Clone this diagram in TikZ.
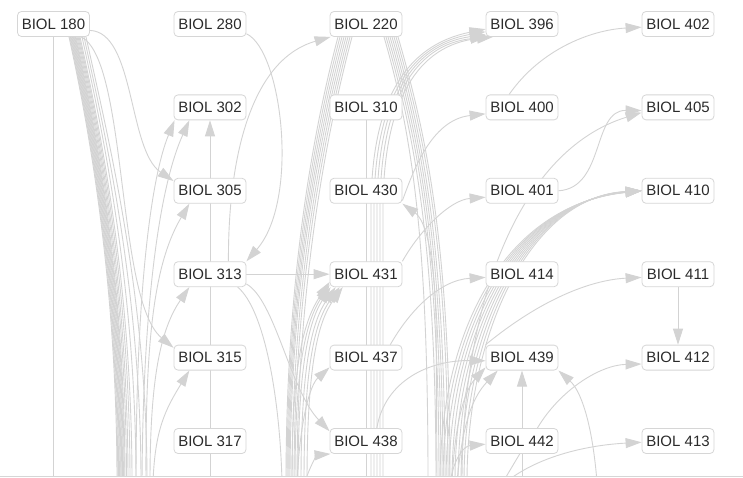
\documentclass[tikz,border=0pt]{standalone}
\usepackage{fontspec}
\setmainfont{Liberation Sans}
\usetikzlibrary{arrows.meta}
\definecolor{edgegray}{HTML}{D3D3D3}
\definecolor{nodeborder}{HTML}{D6D6D6}
\definecolor{nodetext}{HTML}{2B2B2B}
\pgfdeclarelayer{bg}
\pgfsetlayers{bg,main}
\begin{document}
\begin{tikzpicture}[x=1pt,y=-1pt,
  box/.style={draw=nodeborder, line width=0.8pt, fill=white, rounded corners=4pt,
    minimum width=72pt, minimum height=25pt, inner sep=0pt, text=nodetext,
    font=\fontsize{15}{17}\selectfont},
  link/.style={draw=edgegray, line width=0.9pt},
  arr/.style={link, -{Triangle[length=16pt,width=10pt]}}]
\useasboundingbox (0,0) rectangle (743,478);
% nodes
\node[box] (n180) at (53.5,24) {BIOL 180};
\node[box] (n280) at (210,24) {BIOL 280};
\node[box] (n220) at (366,24) {BIOL 220};
\node[box] (n396) at (522,24) {BIOL 396};
\node[box] (n402) at (678,24) {BIOL 402};
\node[box] (n302) at (210,107.4) {BIOL 302};
\node[box] (n310) at (366,107.4) {BIOL 310};
\node[box] (n400) at (522,107.4) {BIOL 400};
\node[box] (n405) at (678,107.4) {BIOL 405};
\node[box] (n305) at (210,190.8) {BIOL 305};
\node[box] (n430) at (366,190.8) {BIOL 430};
\node[box] (n401) at (522,190.8) {BIOL 401};
\node[box] (n410) at (678,190.8) {BIOL 410};
\node[box] (n313) at (210,274.2) {BIOL 313};
\node[box] (n431) at (366,274.2) {BIOL 431};
\node[box] (n414) at (522,274.2) {BIOL 414};
\node[box] (n411) at (678,274.2) {BIOL 411};
\node[box] (n315) at (210,357.6) {BIOL 315};
\node[box] (n437) at (366,357.6) {BIOL 437};
\node[box] (n439) at (522,357.6) {BIOL 439};
\node[box] (n412) at (678,357.6) {BIOL 412};
\node[box] (n317) at (210,441) {BIOL 317};
\node[box] (n438) at (366,441) {BIOL 438};
\node[box] (n442) at (522,441) {BIOL 442};
\node[box] (n413) at (678,441) {BIOL 413};
% free ends below the visible area
\coordinate (f180) at (53.5,482);
\coordinate (f302) at (210,482);
\coordinate (f310) at (366,482);
\coordinate (f439) at (522,482);
\coordinate (fa) at (136,482);
\coordinate (fb) at (142,482);
\coordinate (fc) at (146,482);
\coordinate (fd) at (150,482);
\coordinate (fe) at (153,482);
\coordinate (f313) at (282,482);
\coordinate (f437) at (297,482);
\coordinate (f438) at (305,482);
\coordinate (f430) at (437,482);
\coordinate (f442) at (450,482);
\coordinate (f442b) at (503,482);
\coordinate (f413) at (506,482);
\coordinate (f439b) at (597,482);
\coordinate (f405) at (462,482);
\begin{pgfonlayer}{bg}
\begin{scope}
\clip (0,0) rectangle (743,476.5);
% BIOL 180
\draw[link] (n180.south) -- (f180);
\foreach \s/\e in {69/117,69.7/117.8,70.4/118.6,71.1/119.4,71.8/120.2,72.5/121,73.2/121.8,73.9/122.6,74.6/123.4,75.3/124.2,76/125,77/126.5,78/128,79/130,80/132,82/136,84/141,86/147}
  \draw[link] ([xshift=\s pt-53.5pt]n180.south) .. controls (\s+25,150) and (\e,300) .. (\e,482);
\draw[arr] (n180.-10) .. controls (135,32) and (128,150) .. (n305.165);
\draw[arr] (n180.-25) .. controls (128,60) and (116,300) .. (n315.165);
% into the 300s column from below
\draw[arr] (f302) -- (n302.south);
\draw[arr] (fa) .. controls (136,300) and (150,180) .. (n302.-160);
\draw[arr] (fb) .. controls (143,300) and (160,185) .. (n302.-148);
\draw[arr] (fc) .. controls (145,330) and (156,260) .. (n305.-148);
\draw[arr] (fd) .. controls (150,380) and (160,330) .. (n313.-148);
\draw[arr] (fe) .. controls (155,430) and (165,410) .. (n315.-148);
% BIOL 280 / 313
\draw[arr] (n280.-15) .. controls (282,50) and (300,200) .. (n313.north east);
\draw[arr] (n313.35) .. controls (228,160) and (250,60) .. (n220.-160);
\draw[arr] (n313.east) -- (n431.west);
\draw[arr] (n313.-15) .. controls (275,300) and (290,390) .. (n438.165);
\draw[link] (n313.-25) .. controls (265,310) and (280,400) .. (f313);
% BIOL 220 left bundle
\foreach \s/\e in {338/286,340/287,342/288,344/289,346/290,348/292,350/294,352/297}
  \draw[link] ([xshift=\s pt-366pt]n220.south) .. controls (\s-30,150) and (\e,300) .. (\e,482);
% into BIOL 431 from below
\foreach \e/\a in {292/-168,295/-164,298/-160,301/-157,304/-154,307/-151}
  \draw[arr] (\e,482) .. controls (\e,360) and (\e+12,320) .. (n431.\a);
\draw[arr] (f437) .. controls (300,420) and (310,385) .. (n437.-165);
\draw[arr] (f438) .. controls (310,465) and (318,455) .. (n438.-160);
% BIOL 310
\draw[link] (n310.south) -- (f310);
% into BIOL 396
\foreach \e/\a in {371/-172,374/-168,377/-164,380/-160,383/-156}
  \draw[arr] (\e,482) -- (\e,210) .. controls (\e,100) and (\e+35,45) .. (n396.\a);
% BIOL 220 right bundle
\foreach \s/\e in {384/428,386/436,388/439,390/441,392/443,394/445,396/448,398/450}
  \draw[link] ([xshift=\s pt-366pt]n220.south) .. controls (\s+30,140) and (\e,250) .. (\e,482);
% BIOL 430 / 400 / 402
\draw[arr] (n430.-15) .. controls (412,175) and (430,120) .. (n400.-170);
\draw[arr] (f430) -- (436,320) .. controls (434,250) and (425,220) .. (n430.south east);
\draw[arr] (n400.135) .. controls (540,50) and (590,30) .. (n402.-175);
\draw[arr] (n401.east) .. controls (605,188) and (592,110) .. (n405.-175);
\draw[arr] (f405) .. controls (462,300) and (520,150) .. (n405.-172);
\draw[arr] (n431.north east) .. controls (420,230) and (450,200) .. (n401.-170);
% into BIOL 410
\foreach \e/\k in {440/0,443/1,446/2,449/3,452/4,455/5,458/6,461/7,464/8,467/9}
  \draw[arr] (\e,482) .. controls (\e,330) and (505+\k*3,205-\k*1) .. (n410.west);
% BIOL 414, 439, 442 ...
\draw[arr] (n437.28) .. controls (410,310) and (440,280) .. (n414.-175);
\draw[arr] (n438.50) .. controls (385,380) and (430,360) .. (n439.-175);
\draw[arr] (452,482) .. controls (455,420) and (465,390) .. (n439.-165);
\draw[arr] (457,482) .. controls (462,430) and (470,400) .. (n439.-152);
\draw[arr] (f442) .. controls (455,455) and (465,446) .. (n442.-175);
\draw[link] (n442.-100) -- (f442b);
\draw[arr] (f439) -- (n439.south);
\draw[arr] (f413) .. controls (540,455) and (590,445) .. (n413.-178);
\draw[arr] (n442.40) .. controls (560,390) and (600,365) .. (n412.-170);
\draw[arr] (f439b) .. controls (592,420) and (580,390) .. (n439.south east);
\draw[arr] (n439.north west) .. controls (540,300) and (590,280) .. (n411.-175);
\draw[arr] (n411.south) -- (n412.north);
\end{scope}
\end{pgfonlayer}
\draw[draw=nodeborder, line width=0.8pt] (0,476.5) -- (743,476.5);
\end{tikzpicture}
\end{document}
